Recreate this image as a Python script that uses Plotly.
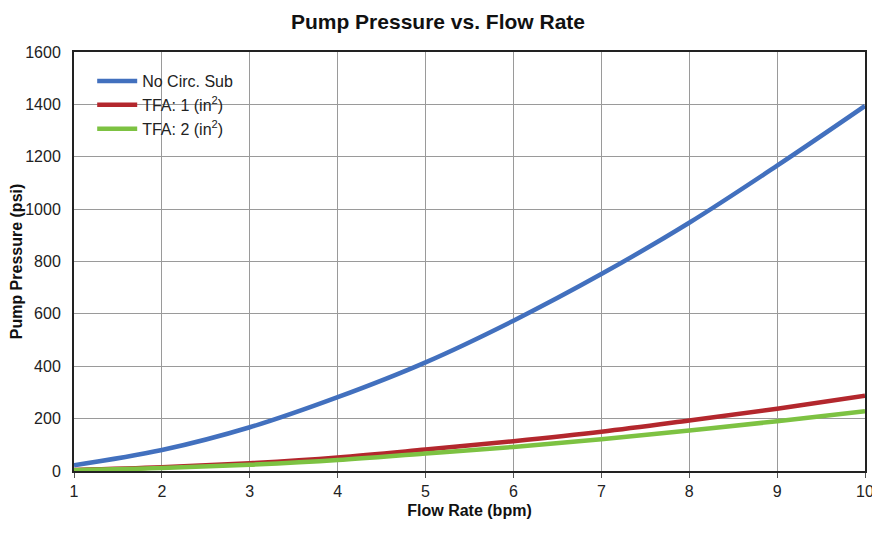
import plotly.graph_objects as go

flow_rate = [1, 2, 3, 4, 5, 6, 7, 8, 9, 10]
no_circ_sub = [22, 80, 167, 282, 415, 574, 752, 948, 1166, 1394]
tfa_1 = [4, 14, 30, 52, 82, 114, 150, 193, 238, 287]
tfa_2 = [3, 11, 24, 42, 67, 92, 121, 155, 190, 228]

x_ticks = [1, 2, 3, 4, 5, 6, 7, 8, 9, 10]
y_ticks = [0, 200, 400, 600, 800, 1000, 1200, 1400, 1600]

fig = go.Figure()
fig.add_trace(go.Scatter(x=flow_rate, y=no_circ_sub, mode="lines", name="No Circ. Sub",
                         line=dict(color="#4270BE", width=4.5, shape="spline")))
fig.add_trace(go.Scatter(x=flow_rate, y=tfa_1, mode="lines", name="TFA: 1 (in<sup>2</sup>)",
                         line=dict(color="#B3272D", width=4.5, shape="spline")))
fig.add_trace(go.Scatter(x=flow_rate, y=tfa_2, mode="lines", name="TFA: 2 (in<sup>2</sup>)",
                         line=dict(color="#7DC242", width=4.5, shape="spline")))

fig.update_layout(
    width=880, height=540,
    paper_bgcolor="white", plot_bgcolor="white",
    margin=dict(l=66, r=23, t=44, b=77, autoexpand=False),
    font=dict(family="Liberation Sans, Arial, sans-serif", color="#222222", size=16),
    title=dict(text="<b>Pump Pressure vs. Flow Rate</b>", x=430 / 880, xanchor="center",
               y=1 - 14 / 540, yanchor="middle", font=dict(size=21, color="#111111")),
    showlegend=True,
    legend=dict(x=0.023, y=0.971, xanchor="left", yanchor="top", bgcolor="rgba(255,255,255,0)",
                borderwidth=0, font=dict(size=16, color="#222222"), tracegroupgap=6,
                itemwidth=40),
    xaxis=dict(
        range=[1, 10], tickvals=x_ticks, ticktext=[str(v) for v in x_ticks],
        title=dict(text="<b>Flow Rate (bpm)</b>", font=dict(size=16, color="#111111"), standoff=6),
        showgrid=True, gridcolor="#9a9a9a", gridwidth=1, automargin=False,
        showline=True, linecolor="#222222", linewidth=2, mirror=True,
        ticks="outside", ticklen=5, tickcolor="#555555", zeroline=False,
    ),
    yaxis=dict(
        range=[0, 1600], tickvals=y_ticks, ticktext=[str(v) for v in y_ticks],
        title=dict(text="<b>Pump Pressure (psi)</b>", font=dict(size=16, color="#111111"), standoff=1),
        showgrid=True, gridcolor="#9a9a9a", gridwidth=1, automargin=False,
        showline=True, linecolor="#222222", linewidth=2, mirror=True,
        ticks="outside", ticklen=8, tickcolor="rgba(0,0,0,0)", zeroline=False,
    ),
)

fig.write_html("out.html")
